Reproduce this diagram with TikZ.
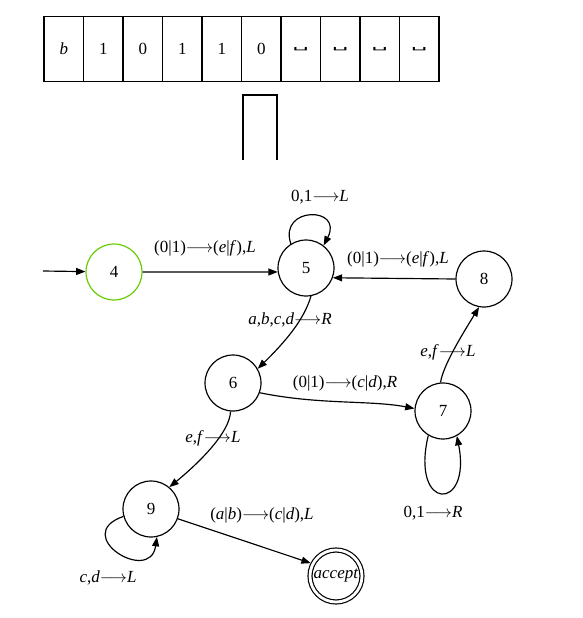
\documentclass[tikz,border=0pt]{standalone}
\usepackage{fontspec}
\newfontfamily\tfont{Liberation Serif}
\newfontfamily\symfont{DejaVu Sans}
\usetikzlibrary{arrows.meta,shapes}
\definecolor{startgreen}{RGB}{102,204,0}
\newcommand{\lblfont}{\tfont\fontsize{14.5}{17}\selectfont}
\newcommand{\blank}{\scalebox{1.5}[0.6]{\symfont ␣}}
\newcommand{\goes}{$\longrightarrow$}
\tikzstyle{state}=[circle,draw=black,line width=1pt,minimum size=1.68cm,inner sep=0pt,font=\lblfont]
\tikzstyle{cell}=[rectangle,draw=black,line width=1.2pt,minimum width=1.185cm,minimum height=1.95cm,inner sep=0pt,font=\lblfont]
\tikzstyle{edge}=[draw,line width=1pt,-{Triangle[length=0.28cm,width=0.21cm]}]
\tikzstyle{lbl}=[inner sep=1pt,font=\lblfont]

\begin{document}
\begin{tikzpicture}[x=0.03cm,y=-0.03cm]
    \useasboundingbox (0,0) rectangle (582,618);
    % The tape
    \foreach \i/\sym in {1/\textit{b},2/1,3/0,4/1,5/1,6/0,7/\blank,8/\blank,9/\blank,10/\blank}
        \node[cell] (c\i) at ({44+39.5*(\i-0.5)},49) {\sym};
    % The head
    \draw[line width=1.2pt] (243,160) -- (243,95) -- (277,95) -- (277,160);
    % The states
    \node[state,draw=startgreen] (s4) at (114,272) {4};
    \node[state] (s5) at (306,268) {5};
    \node[state] (s8) at (484,279) {8};
    \node[state] (s6) at (233,383) {6};
    \node[state] (s7) at (443,411) {7};
    \node[state] (s9) at (151,509) {9};
    \node[state,minimum size=1.56cm,double,double distance=2.4pt,outer sep=0.07cm] (acc) at (336,576) {\textit{accept}};
    \coordinate (start) at (43,271);
    % The transitions
    \path[edge] (start) -- (s4);
    \path[edge] (s4.east) -- (s5.188);
    \path[edge] (s5.122) .. controls (278,206) and (344,206) .. (s5.52);
    \path[edge] (s8.180) -- (s5.-20);
    \path[edge] (s5.-80) .. controls (304,320) and (285,342) .. (s6.30);
    \path[edge] (s6.-20) .. controls (320,405) and (370,400) .. (s7.175);
    \path[edge] (s7.95) .. controls (443,365) and (465,330) .. (s8.-100);
    \path[edge] (s7.-121) .. controls (410,512) and (472,512) .. (s7.-61);
    \path[edge] (s6.-95) .. controls (230,432) and (200,462) .. (s9.50);
    \path[edge] (s9.195) .. controls (70,535) and (150,585) .. (s9.-78);
    \path[edge] (s9.-20) -- (acc.153);
    % The labels
    \node[lbl] (l55) at (320,197) {0,1\goes\textit{L}};
    \node[lbl] (l45) at (205,248) {(0|1)\goes(\textit{e}|\textit{f}),\textit{L}};
    \node[lbl] (l85) at (398,259) {(0|1)\goes(\textit{e}|\textit{f}),\textit{L}};
    \node[lbl] (l56) at (290,320) {\textit{a},\textit{b},\textit{c},\textit{d}\goes\textit{R}};
    \node[lbl] (l78) at (448,352) {\textit{e},\textit{f}\goes\textit{L}};
    \node[lbl] (l67) at (345,383) {(0|1)\goes(\textit{c}|\textit{d}),\textit{R}};
    \node[lbl] (l69) at (213,438) {\textit{e},\textit{f}\goes\textit{L}};
    \node[lbl] (l77) at (433,513) {0,1\goes\textit{R}};
    \node[lbl] (l9a) at (262,515) {(\textit{a}|\textit{b})\goes(\textit{c}|\textit{d}),\textit{L}};
    \node[lbl] (l99) at (108,578) {\textit{c},\textit{d}\goes\textit{L}};
\end{tikzpicture}
\end{document}
